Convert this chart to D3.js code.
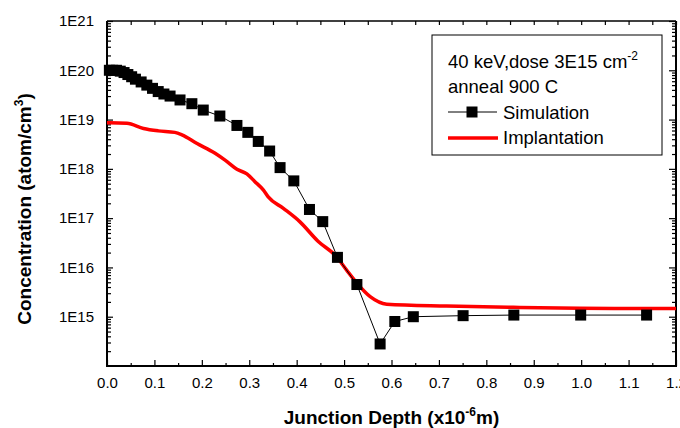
<!DOCTYPE html>
<meta charset="utf-8">
<style>
html, body {
  margin: 0;
  padding: 0;
  background: #fff;
}
svg text {
  font-family: "Liberation Sans", Arial, sans-serif;
  fill: #000;
}
.tick-label { font-size: 15px; }
.axis-title { font-size: 19px; font-weight: bold; }
.legend text { font-size: 18.5px; }
</style>
<div id="chart"></div>
<script src="https://cdn.jsdelivr.net/npm/d3@7"></script>
<script>

// Simulation (depth in 1e-6 m, concentration in atom/cm3)
var simDepth = [0.005, 0.012, 0.020, 0.028, 0.036, 0.044, 0.052, 0.060, 0.072, 0.084,
  0.096, 0.108, 0.120, 0.133, 0.154, 0.179, 0.203, 0.238, 0.274, 0.297,
  0.319, 0.343, 0.365, 0.394, 0.427, 0.455, 0.486, 0.527, 0.576, 0.607,
  0.646, 0.751, 0.858, 0.999, 1.138];
var simConc = [1.0e20, 1.0e20, 1.0e20, 9.6e19, 9.0e19, 8.2e19, 7.4e19, 6.6e19, 5.8e19, 5.0e19,
  4.3e19, 3.7e19, 3.3e19, 3.0e19, 2.5e19, 2.1e19, 1.56e19, 1.18e19, 7.6e18, 5.5e18,
  3.6e18, 2.3e18, 1.06e18, 5.7e17, 1.5e17, 8.5e16, 1.6e16, 4.5e15, 2.8e14, 8.0e14,
  1.0e15, 1.05e15, 1.08e15, 1.08e15, 1.08e15];

// Implantation profile
var impDepth = [0.0, 0.006, 0.042, 0.077, 0.108, 0.143, 0.158, 0.189, 0.228, 0.249,
  0.274, 0.295, 0.312, 0.330, 0.340, 0.372, 0.407, 0.445, 0.484, 0.505,
  0.527, 0.555, 0.590, 0.716, 0.857, 0.997, 1.2];
var impConc = [8.6e18, 8.6e18, 8.4e18, 6.6e18, 5.9e18, 5.5e18, 4.9e18, 3.3e18, 2.07e18, 1.5e18,
  9.8e17, 7.9e17, 5.5e17, 3.7e17, 2.7e17, 1.58e17, 8.4e16, 3.4e16, 1.65e16, 8.9e15,
  4.8e15, 2.55e15, 1.8e15, 1.65e15, 1.55e15, 1.48e15, 1.46e15];

var xTicks = [0, 0.1, 0.2, 0.3, 0.4, 0.5, 0.6, 0.7, 0.8, 0.9, 1.0, 1.1, 1.2];
var yTicks = [1e15, 1e16, 1e17, 1e18, 1e19, 1e20, 1e21];
var yTickLabels = ["1E15", "1E16", "1E17", "1E18", "1E19", "1E20", "1E21"];

var width = 680, height = 428;
var pLeft = 107, pRight = 676, pTop = 21, pBottom = 366;

var svg = d3.select("#chart").append("svg")
    .attr("width", width)
    .attr("height", height);

var x = d3.scaleLinear().domain([0, 1.2]).range([pLeft, pRight]);
var y = d3.scaleLog().domain([1e14, 1e21]).range([pBottom, pTop]);

var sim = simDepth.map(function(d, i) { return [d, simConc[i]]; });
var imp = impDepth.map(function(d, i) { return [d, impConc[i]]; });

// minor ticks
var xMinor = d3.range(0.05, 1.2, 0.1);
var yMinor = [];
for (var e = 14; e < 21; e++) {
  for (var m = 2; m <= 9; m++) yMinor.push(m * Math.pow(10, e));
}

// axes with ticks pointing inward
svg.append("g")
    .attr("transform", "translate(0," + pBottom + ")")
    .call(d3.axisBottom(x).tickValues(xTicks).tickSize(-6).tickFormat(d3.format(".1f")).tickPadding(11))
    .call(function(g) {
      g.select(".domain").remove();
      g.selectAll("text").attr("class", "tick-label").attr("font-size", null).attr("font-family", null);
    });
svg.append("g")
    .attr("transform", "translate(0," + pBottom + ")")
    .call(d3.axisBottom(x).tickValues(xMinor).tickSize(-3).tickFormat(""))
    .call(function(g) { g.select(".domain").remove(); });
svg.append("g")
    .attr("transform", "translate(0," + pTop + ")")
    .call(d3.axisTop(x).tickValues(xTicks.concat(xMinor)).tickSize(-4).tickFormat(""))
    .call(function(g) { g.select(".domain").remove(); });

svg.append("g")
    .attr("transform", "translate(" + pLeft + ",0)")
    .call(d3.axisLeft(y).tickValues(yTicks).tickSize(-6).tickPadding(13)
      .tickFormat(function(d, i) { return yTickLabels[i]; }))
    .call(function(g) {
      g.select(".domain").remove();
      g.selectAll("text").attr("class", "tick-label").attr("font-size", null).attr("font-family", null);
    });
svg.append("g")
    .attr("transform", "translate(" + pLeft + ",0)")
    .call(d3.axisLeft(y).tickValues(yMinor).tickSize(-4).tickFormat(""))
    .call(function(g) { g.select(".domain").remove(); });
svg.append("g")
    .attr("transform", "translate(" + pRight + ",0)")
    .call(d3.axisRight(y).tickValues(yTicks).tickSize(-7).tickFormat(""))
    .call(function(g) { g.select(".domain").remove(); });
svg.append("g")
    .attr("transform", "translate(" + pRight + ",0)")
    .call(d3.axisRight(y).tickValues(yMinor).tickSize(-4).tickFormat(""))
    .call(function(g) { g.select(".domain").remove(); });

svg.selectAll(".tick line").attr("stroke", "#000").attr("stroke-width", 1.2);

// frame
svg.append("line").attr("x1", pLeft).attr("x2", pLeft).attr("y1", pTop).attr("y2", pBottom + 1)
    .attr("stroke", "#000").attr("stroke-width", 2);
svg.append("line").attr("x1", pLeft - 1).attr("x2", pRight).attr("y1", pBottom).attr("y2", pBottom)
    .attr("stroke", "#000").attr("stroke-width", 2);
svg.append("line").attr("x1", pLeft).attr("x2", pRight).attr("y1", pTop).attr("y2", pTop)
    .attr("stroke", "#000").attr("stroke-width", 1.3);
svg.append("line").attr("x1", pRight).attr("x2", pRight).attr("y1", pTop).attr("y2", pBottom + 1)
    .attr("stroke", "#000").attr("stroke-width", 2);

// data
svg.append("clipPath").attr("id", "clip")
  .append("rect").attr("x", pLeft).attr("y", pTop).attr("width", pRight - pLeft).attr("height", pBottom - pTop);

var plot = svg.append("g").attr("clip-path", "url(#clip)");

var line = d3.line()
    .x(function(d) { return x(d[0]); })
    .y(function(d) { return y(d[1]); });
var smooth = d3.line()
    .curve(d3.curveMonotoneX)
    .x(function(d) { return x(d[0]); })
    .y(function(d) { return y(d[1]); });

plot.append("path")
    .datum(imp)
    .attr("d", smooth)
    .attr("fill", "none")
    .attr("stroke", "#ff0000")
    .attr("stroke-width", 3.5);

plot.append("path")
    .datum(sim)
    .attr("d", line)
    .attr("fill", "none")
    .attr("stroke", "#000")
    .attr("stroke-width", 1);

var sq = 11;
svg.append("g").selectAll("rect")
    .data(sim)
    .enter().append("rect")
    .attr("x", function(d) { return x(d[0]) - sq / 2; })
    .attr("y", function(d) { return y(d[1]) - sq / 2; })
    .attr("width", sq)
    .attr("height", sq)
    .attr("fill", "#000");

// axis titles
var xt = svg.append("text")
    .attr("class", "axis-title")
    .attr("x", (pLeft + pRight) / 2)
    .attr("y", 424)
    .attr("text-anchor", "middle");
xt.append("tspan").text("Junction Depth (x10");
xt.append("tspan").attr("dy", -8).attr("font-size", 12).text("-6");
xt.append("tspan").attr("dy", 8).text("m)");

var yt = svg.append("text")
    .attr("class", "axis-title")
    .attr("transform", "translate(31,209) rotate(-90)")
    .attr("text-anchor", "middle");
yt.append("tspan").text("Concentration (atom/cm");
yt.append("tspan").attr("dy", -8).attr("font-size", 12).text("3");
yt.append("tspan").attr("dy", 8).text(")");

// legend
var lg = svg.append("g").attr("class", "legend");
lg.append("rect")
    .attr("x", 432).attr("y", 35).attr("width", 230).attr("height", 120)
    .attr("fill", "#fff").attr("stroke", "#000").attr("stroke-width", 1);

var l1 = lg.append("text").attr("x", 448).attr("y", 68);
l1.append("tspan").text("40 keV,dose 3E15 cm");
l1.append("tspan").attr("dy", -8).attr("font-size", 12).text("-2");
lg.append("text").attr("x", 448).attr("y", 93).text("anneal 900 C");

lg.append("line").attr("x1", 448).attr("x2", 497).attr("y1", 112).attr("y2", 112)
    .attr("stroke", "#000").attr("stroke-width", 1);
lg.append("rect").attr("x", 472 - sq / 2).attr("y", 112 - sq / 2).attr("width", sq).attr("height", sq)
    .attr("fill", "#000");
lg.append("text").attr("x", 503).attr("y", 119).text("Simulation");

lg.append("line").attr("x1", 448).attr("x2", 498).attr("y1", 138).attr("y2", 138)
    .attr("stroke", "#ff0000").attr("stroke-width", 3.5);
lg.append("text").attr("x", 503).attr("y", 144).text("Implantation");

</script>
